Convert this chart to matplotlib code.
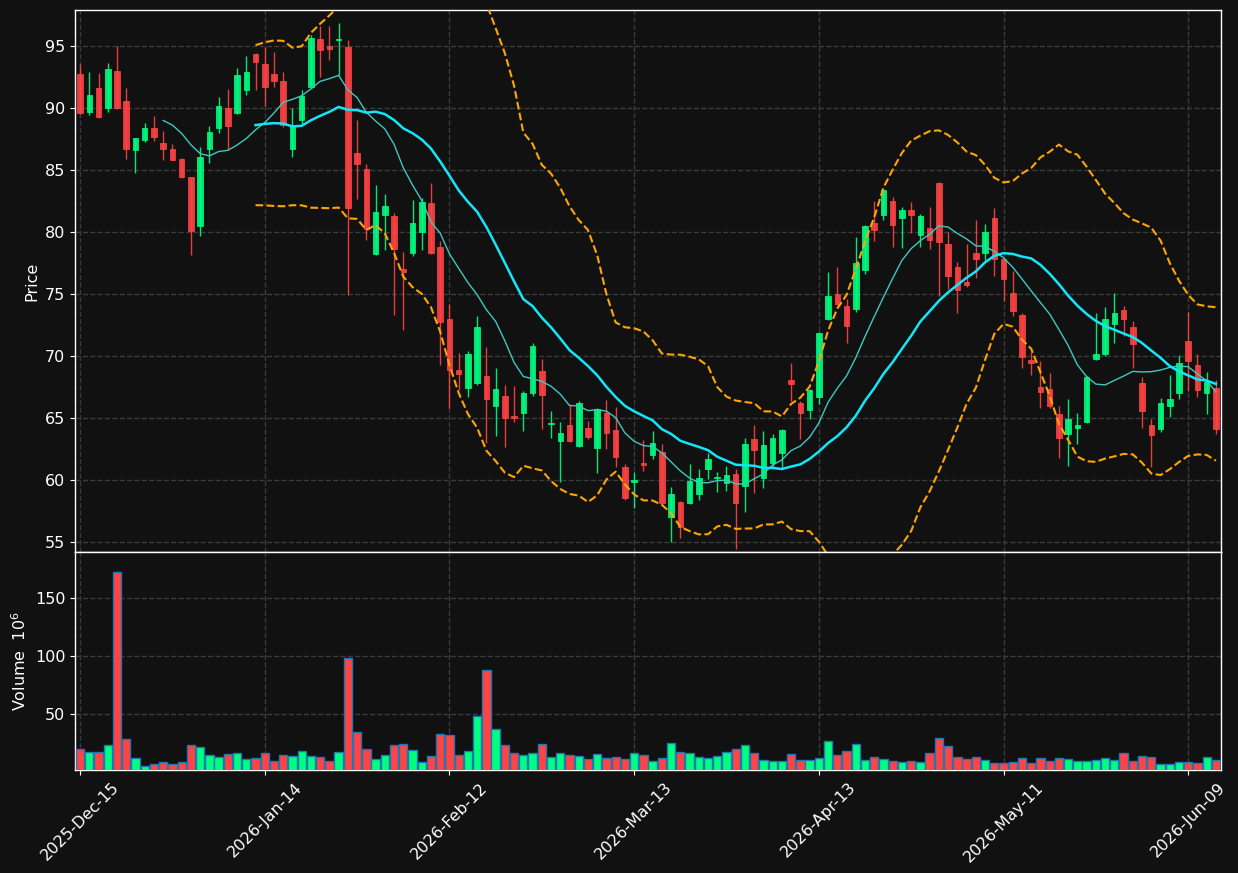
"""
Candlestick chart with 10/20 moving averages, Bollinger bands and volume panel.
"""

import numpy as np
import pandas as pd
import matplotlib
matplotlib.use("Agg")
import matplotlib.pyplot as plt

# ── Style ────────────────────────────────────────────────────────────────────
BG      = "#111111"
UP      = "#00ff80"
DOWN    = "#ff4444"
VEDGE   = "#1f77b4"
MA_FAST = "#3fc8c0"
MA_SLOW = "#12e6f8"
BAND    = "#ffa500"
GRID    = "#3a3a3a"
FG      = "#ffffff"

plt.rcParams.update({
    "font.family": "DejaVu Sans",
    "font.size": 11.5,
    "axes.edgecolor": FG,
    "axes.labelcolor": FG,
    "xtick.color": FG,
    "ytick.color": FG,
})

# ── Data (prices, volume in millions) ────────────────────────────────────────
START, END = "2025-12-15", "2026-06-12"
HOLIDAYS = ["2025-12-25", "2026-01-01", "2026-01-19",
            "2026-02-16", "2026-04-03", "2026-05-25"]

opens = [
    92.70, 89.67, 91.58, 89.98, 93.01, 90.60, 86.59, 87.40, 88.41, 87.20,
    86.73, 85.91, 84.40, 80.45, 86.73, 88.35, 90.01, 89.59, 91.44, 94.38,
    93.51, 92.70, 92.14, 86.73, 89.03, 91.66, 95.59, 94.97, 95.48, 94.89,
    86.36, 85.05, 78.20, 81.34, 81.32, 77.05, 78.29, 80.03, 82.30, 78.82,
    73.01, 68.89, 67.46, 67.80, 68.42, 65.95, 66.79, 65.19, 65.39, 66.99,
    68.81, 64.49, 63.12, 64.46, 62.72, 64.21, 62.55, 65.39, 64.07, 61.07,
    59.81, 61.41, 62.02, 62.25, 57.00, 58.24, 58.18, 58.91, 60.93, 60.14,
    59.75, 60.51, 59.55, 63.34, 60.14, 61.35, 62.19, 68.05, 66.23, 65.67,
    66.68, 72.96, 75.03, 74.05, 73.83, 76.97, 80.75, 81.34, 82.52, 81.12,
    81.79, 79.72, 80.36, 83.98, 79.07, 77.14, 75.99, 78.34, 78.34, 81.09,
    77.84, 75.12, 73.32, 69.71, 67.52, 67.35, 65.36, 63.68, 64.18, 64.71,
    69.73, 70.18, 72.57, 73.69, 72.37, 67.85, 64.46, 64.10, 65.95, 66.99,
    71.25, 69.28, 66.99, 67.43,
]
highs = [
    93.51, 92.90, 92.84, 93.60, 95.00, 91.63, 87.62, 88.75, 89.36, 88.16,
    87.09, 86.00, 84.45, 86.87, 88.55, 90.91, 91.55, 93.23, 94.21, 94.45,
    94.94, 94.52, 92.90, 89.98, 91.49, 95.90, 96.60, 96.60, 96.88, 95.48,
    89.03, 85.52, 83.78, 83.08, 81.54, 78.40, 82.58, 82.72, 83.95, 79.27,
    74.16, 70.24, 70.41, 73.21, 70.72, 69.03, 67.66, 67.57, 67.15, 71.02,
    69.79, 65.56, 64.69, 66.14, 66.40, 64.74, 65.84, 66.45, 65.92, 61.29,
    60.62, 63.23, 63.96, 62.89, 59.44, 58.32, 61.29, 60.90, 62.16, 60.68,
    61.15, 60.90, 63.40, 64.43, 63.96, 63.70, 64.12, 69.43, 66.40, 67.35,
    71.95, 76.77, 77.17, 74.58, 79.60, 80.59, 82.46, 83.45, 82.80, 82.02,
    82.44, 81.46, 82.02, 84.02, 80.00, 77.61, 79.07, 80.98, 80.64, 81.93,
    77.90, 76.83, 73.49, 70.35, 69.59, 68.64, 65.98, 66.54, 65.39, 68.42,
    73.46, 73.94, 75.09, 74.02, 72.82, 68.33, 64.91, 66.65, 68.47, 70.07,
    73.58, 70.18, 68.70, 68.08,
]
lows = [
    89.53, 89.45, 89.17, 89.67, 89.95, 85.89, 84.76, 87.29, 87.34, 85.80,
    85.77, 84.34, 78.12, 79.66, 85.58, 87.99, 86.64, 89.50, 91.05, 91.41,
    90.15, 91.66, 88.44, 86.05, 88.61, 91.60, 92.53, 93.88, 92.67, 74.92,
    82.63, 79.35, 78.15, 78.51, 73.27, 72.09, 78.06, 78.57, 78.20, 69.26,
    65.81, 67.29, 66.73, 67.70, 63.00, 63.59, 62.67, 64.69, 63.96, 66.76,
    64.10, 63.42, 59.86, 63.03, 62.65, 63.31, 60.56, 62.47, 61.07, 58.40,
    57.76, 60.76, 61.69, 58.10, 55.04, 55.32, 58.07, 58.40, 60.11, 59.07,
    59.11, 54.45, 57.42, 58.94, 59.36, 60.96, 60.93, 66.40, 63.31, 64.91,
    66.12, 72.90, 74.10, 71.02, 73.55, 76.58, 79.27, 80.95, 78.76, 78.71,
    79.89, 78.82, 78.60, 74.87, 75.43, 73.46, 75.57, 76.27, 77.73, 76.44,
    74.44, 73.24, 69.03, 68.47, 65.81, 65.78, 61.80, 61.12, 62.89, 64.63,
    69.68, 70.04, 71.08, 71.58, 69.06, 64.21, 61.07, 63.87, 65.05, 66.57,
    67.15, 66.71, 65.33, 63.70,
]
closes = [
    89.59, 91.07, 89.25, 93.18, 89.98, 86.67, 87.54, 88.35, 87.65, 86.67,
    85.83, 84.40, 80.05, 86.08, 88.10, 90.20, 88.52, 92.62, 92.92, 93.68,
    91.66, 92.17, 88.61, 88.52, 90.99, 95.67, 94.66, 94.78, 95.56, 81.96,
    85.47, 80.25, 81.65, 82.13, 78.60, 76.74, 80.75, 82.38, 78.29, 72.76,
    68.84, 68.53, 70.18, 72.37, 66.51, 67.35, 64.97, 64.97, 67.04, 70.83,
    66.82, 64.60, 63.82, 63.17, 66.23, 63.51, 65.75, 63.76, 61.88, 58.52,
    60.00, 61.18, 63.00, 58.18, 58.88, 56.24, 59.94, 60.17, 61.71, 60.25,
    60.42, 58.12, 62.92, 62.39, 62.84, 63.40, 64.04, 67.71, 65.39, 67.29,
    71.89, 74.87, 74.16, 72.40, 77.53, 80.45, 80.14, 83.42, 80.53, 81.79,
    81.34, 81.32, 79.32, 79.18, 76.49, 75.29, 75.76, 77.84, 80.03, 77.84,
    76.18, 73.66, 69.90, 69.45, 67.13, 66.00, 63.37, 64.94, 64.41, 68.33,
    70.18, 73.01, 73.49, 72.96, 70.94, 65.53, 63.62, 66.23, 66.57, 69.45,
    69.57, 67.24, 67.91, 64.10,
]
volumes = [
    19.5, 16.9, 16.9, 23.0, 173.0, 28.2, 11.6, 4.4, 6.4, 8.1,
    6.4, 8.1, 23.0, 21.2, 14.2, 12.5, 15.1, 16.0, 10.8, 11.6,
    16.0, 9.0, 14.2, 13.4, 17.7, 13.4, 12.5, 9.0, 16.9, 98.8,
    34.3, 19.5, 10.8, 14.2, 23.0, 23.8, 18.6, 8.1, 13.4, 32.6,
    31.7, 14.2, 17.7, 48.3, 88.4, 36.9, 23.0, 16.0, 14.2, 16.0,
    23.8, 12.5, 16.0, 14.2, 13.4, 10.8, 15.1, 11.6, 12.5, 10.8,
    16.0, 14.2, 9.0, 11.6, 24.7, 16.9, 16.0, 12.5, 11.6, 13.4,
    16.9, 19.5, 23.0, 16.0, 9.9, 9.0, 9.0, 15.1, 9.9, 9.9,
    11.6, 26.5, 14.2, 17.7, 23.8, 9.9, 12.5, 10.8, 9.0, 8.1,
    9.0, 8.1, 16.0, 29.1, 22.1, 12.5, 10.8, 12.5, 9.9, 7.3,
    7.3, 8.1, 11.6, 7.3, 11.6, 9.0, 11.6, 10.8, 9.0, 9.0,
    9.9, 11.6, 9.9, 16.0, 9.0, 13.4, 12.5, 6.4, 6.4, 8.1,
    8.1, 7.3, 12.5, 9.9,
]

dates = pd.bdate_range(START, END).drop(pd.to_datetime(HOLIDAYS))

o = np.array(opens)
h = np.array(highs)
l = np.array(lows)
c = np.array(closes)
v = np.array(volumes)
x = np.arange(len(c))

up = c >= o
colors = np.where(up, UP, DOWN)

s = pd.Series(c)
ma10 = s.rolling(10).mean()
ma20 = s.rolling(20).mean()
sd20 = s.rolling(20).std(ddof=0)

# ── Figure ───────────────────────────────────────────────────────────────────
W, H = 1238, 873
fig = plt.figure(figsize=(W / 100, H / 100), dpi=100, facecolor=BG)
left, right = 75 / W, 1221 / W
ax = fig.add_axes([left, 1 - 552 / H, right - left, 542 / H], facecolor=BG)
axv = fig.add_axes([left, 1 - 770 / H, right - left, 218 / H], facecolor=BG, sharex=ax)

for a in (ax, axv):
    a.grid(True, color=GRID, ls="--", lw=1)
    a.set_axisbelow(True)
    for sp in a.spines.values():
        sp.set_color(FG)
        sp.set_linewidth(1)

# candles
ax.vlines(x, l, h, colors=colors, lw=1, alpha=0.9, zorder=2)
body = np.maximum(np.abs(c - o), 0.07)
ax.bar(x, body, bottom=np.minimum(o, c), width=0.6, color=colors,
       edgecolor=colors, lw=0.6, alpha=0.9, zorder=3)

# moving averages + bands
ax.plot(x, ma10, color=MA_FAST, lw=1, zorder=4)
ax.plot(x, ma20, color=MA_SLOW, lw=1.8, zorder=4)
ax.plot(x, ma20 + 2 * sd20, color=BAND, lw=1.5, ls="--", zorder=4)
ax.plot(x, ma20 - 2 * sd20, color=BAND, lw=1.5, ls="--", zorder=4)

ax.set_xlim(-0.55, len(x) - 0.45)
ax.set_ylim(54.2, 97.9)
ax.set_yticks(np.arange(55, 96, 5))
ax.set_ylabel("Price", fontsize=11.5)
ax.tick_params(axis="x", length=0, labelbottom=False)

# volume
axv.bar(x, v, width=0.9, color=colors, edgecolor=VEDGE, lw=1, zorder=3)
axv.set_ylim(0.3 * v.min(), 1.1 * v.max())
axv.set_yticks([50, 100, 150])
axv.set_ylabel(r"Volume  $10^{6}$", fontsize=11.5)

ticks = np.arange(0, len(x), 20)
axv.set_xticks(ticks)
axv.set_xticklabels([dates[i].strftime("%Y-%b-%d") for i in ticks], rotation=45)

fig.savefig("out.png", facecolor=BG)
print("Saved → out.png")
